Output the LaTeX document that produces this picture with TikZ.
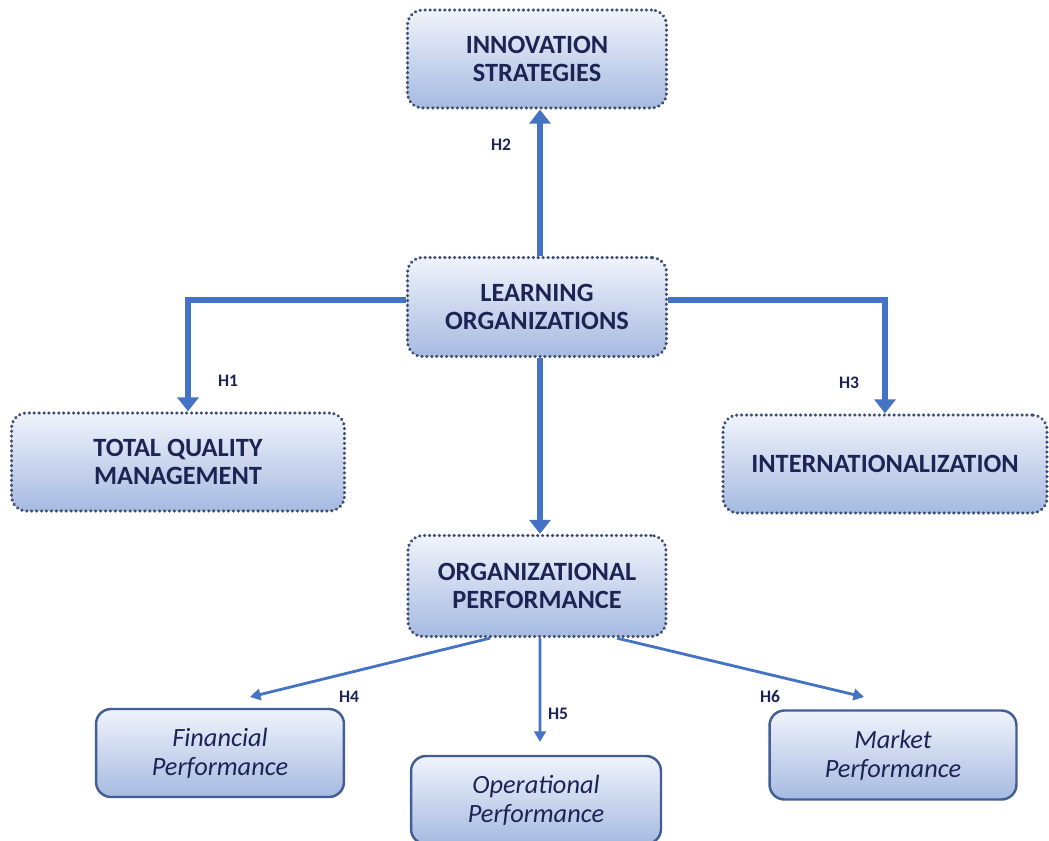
\documentclass[tikz,border=0pt]{standalone}
\usepackage{fontspec}
\setmainfont{Carlito}
\usepackage{tikz}
\usetikzlibrary{arrows.meta, calc}
\definecolor{boxtop}{RGB}{240,243,251}
\definecolor{boxbot}{RGB}{166,186,225}
\definecolor{dotline}{RGB}{62,78,118}
\definecolor{solidline}{RGB}{66,94,148}
\definecolor{arrowblue}{RGB}{68,114,196}
\definecolor{inktext}{RGB}{28,36,84}
\tikzset{
    topbox/.style={rounded corners=0.3cm, draw=dotline, line width=1.9pt,
        dash pattern=on 0.1pt off 2.7pt, line cap=round,
        top color=boxtop, bottom color=boxbot, text=inktext, align=center,
        font=\fontsize{15}{16}\selectfont\bfseries, inner sep=0pt},
    subbox/.style={rounded corners=0.3cm, draw=solidline, line width=1.4pt,
        top color=boxtop, bottom color=boxbot, text=inktext, align=center,
        font=\fontsize{15}{16.5}\selectfont\itshape, inner sep=0pt},
    hyp/.style={text=inktext, font=\fontsize{10}{11}\selectfont\bfseries},
    bigarrow/.style={draw=arrowblue, line width=3.4pt,
        -{Triangle[length=8pt, width=12pt]}},
    thinarrow/.style={draw=arrowblue, line width=1.6pt,
        -{Triangle[length=6pt, width=6.5pt]}}
}
\begin{document}
\begin{tikzpicture}[x=0.02cm, y=-0.02cm]
    \useasboundingbox (0,0) rectangle (1049,841);
    % construct boxes
    \node[topbox, minimum width=5.18cm, minimum height=1.96cm] (inno) at (537,59) {INNOVATION\\STRATEGIES};
    \node[topbox, minimum width=5.18cm, minimum height=1.98cm] (learn) at (537,307) {LEARNING\\ORGANIZATIONS};
    \node[topbox, minimum width=6.66cm, minimum height=1.96cm] (tqm) at (178,462) {TOTAL QUALITY\\MANAGEMENT};
    \node[topbox, minimum width=6.48cm, minimum height=1.96cm] (intl) at (885,464) {INTERNATIONALIZATION};
    \node[topbox, minimum width=5.16cm, minimum height=2.02cm] (orgp) at (537,586) {ORGANIZATIONAL\\PERFORMANCE};
    % dimensions of performance
    \node[subbox, minimum width=4.96cm, minimum height=1.76cm] (fin) at (220,753) {Financial\\Performance};
    \node[subbox, minimum width=5.0cm, minimum height=1.76cm] (oper) at (536,800) {Operational\\Performance};
    \node[subbox, minimum width=4.94cm, minimum height=1.78cm] (mkt) at (893,755) {Market\\Performance};
    % hypotheses
    \draw[bigarrow] ([xshift=0.06cm]learn.north) -- ([xshift=0.06cm]inno.south);
    \draw[bigarrow] ([yshift=0.14cm]learn.west) -| ([xshift=0.2cm]tqm.north);
    \draw[bigarrow] ([yshift=0.14cm]learn.east) -| (intl.north);
    \draw[bigarrow] ([xshift=0.06cm]learn.south) -- ([xshift=0.06cm]orgp.north);
    \coordinate (finend) at (250,697);
    \coordinate (operend) at (540,742);
    \coordinate (mktend) at (864,697);
    \draw[thinarrow] ([xshift=-0.94cm]orgp.south) -- (finend);
    \draw[thinarrow] ([xshift=0.06cm]orgp.south) -- (operend);
    \draw[thinarrow] ([xshift=1.6cm]orgp.south) -- (mktend);
    \node[hyp] (h1) at (228,381) {H1};
    \node[hyp] (h2) at (501,145) {H2};
    \node[hyp] (h3) at (849,383) {H3};
    \node[hyp] (h4) at (349,697) {H4};
    \node[hyp] (h5) at (558,714) {H5};
    \node[hyp] (h6) at (770,697) {H6};
\end{tikzpicture}
\end{document}
